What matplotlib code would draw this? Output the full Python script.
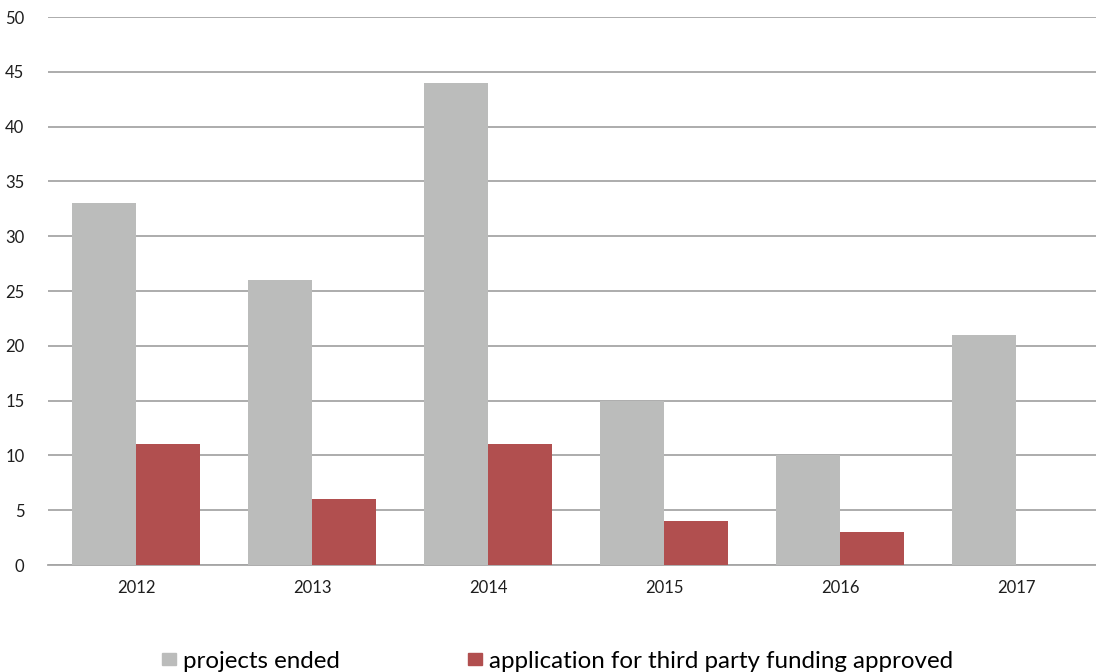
import numpy as np
import matplotlib
matplotlib.use("Agg")
import matplotlib.pyplot as plt
from matplotlib.patches import Patch

# yearly counts
years = ["2012", "2013", "2014", "2015", "2016", "2017"]
projects_ended = [33, 26, 44, 15, 10, 21]
funding_approved = [11, 6, 11, 4, 3, 0]

grey = "#bbbcbb"
red = "#b14f4f"

plt.rcParams["font.family"] = ["Lato", "DejaVu Sans"]

fig = plt.figure(figsize=(10.96, 6.72), dpi=100)
ax = fig.add_axes([48 / 1096, 1 - 565 / 672, 1056 / 1096, 548 / 672])

x = np.arange(len(years))
w = 0.364
ax.bar(x - w / 2, projects_ended, width=w, color=grey, zorder=3)
ax.bar(x + w / 2, funding_approved, width=w, color=red, zorder=3)

ax.set_xlim(-0.5, len(years) - 0.5)
ax.set_ylim(0, 50)
ax.set_yticks(range(0, 51, 5))
ax.set_xticks(x)
ax.set_xticklabels(years)
ax.yaxis.grid(True, color="#a6a6a6", linewidth=1.3, zorder=0)
ax.tick_params(axis="both", length=0, labelsize=12, colors="#1e1e1e")
ax.tick_params(axis="y", pad=17)
ax.tick_params(axis="x", pad=11)
for s in ["top", "right", "left"]:
    ax.spines[s].set_visible(False)
ax.spines["bottom"].set_color("#a6a6a6")
ax.spines["bottom"].set_linewidth(1.3)

handles = [Patch(color=grey, label="projects ended"),
           Patch(color=red, label="application for third party funding approved")]
fig.legend(handles=handles, loc="center", bbox_to_anchor=(0.5087, 0.016),
           ncol=2, frameon=False, fontsize=17.4, handlelength=0.58,
           handleheight=0.42, handletextpad=0.3, columnspacing=5.3)

fig.savefig("out.png", dpi=100)
